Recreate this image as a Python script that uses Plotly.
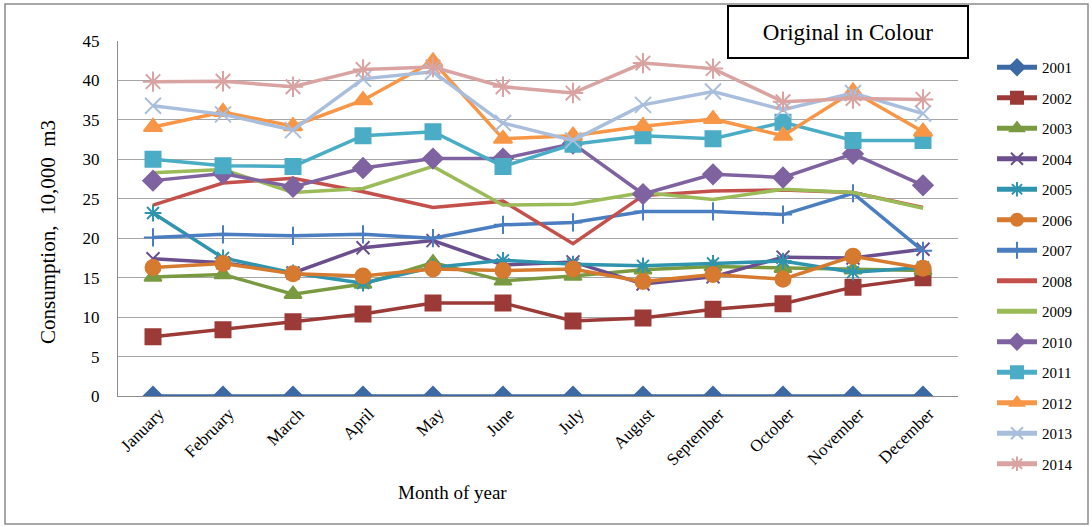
import plotly.graph_objects as go

months = ["January", "February", "March", "April", "May", "June", "July",
          "August", "September", "October", "November", "December"]

y2001 = [0, 0, 0, 0, 0, 0, 0, 0, 0, 0, 0, 0]
y2002 = [7.5, 8.4, 9.4, 10.4, 11.8, 11.8, 9.5, 9.9, 11.0, 11.7, 13.8, 15.0]
y2003 = [15.1, 15.4, 12.9, 14.2, 16.9, 14.6, 15.2, 16.0, 16.4, 16.2, 16.0, 15.9]
y2004 = [17.4, 16.9, 15.6, 18.8, 19.7, 16.6, 17.0, 14.2, 15.1, 17.6, 17.5, 18.6]
y2005 = [23.2, 17.5, 15.6, 14.3, 16.3, 17.2, 16.7, 16.5, 16.8, 17.1, 15.7, 16.3]
y2006 = [16.3, 16.8, 15.5, 15.2, 16.1, 15.9, 16.1, 14.5, 15.4, 14.8, 17.7, 16.2]
y2007 = [20.1, 20.5, 20.3, 20.5, 20.0, 21.7, 22.0, 23.4, 23.4, 23.0, 25.7, 18.4]
y2008 = [24.2, 27.0, 27.6, 25.9, 23.9, 24.7, 19.3, 25.4, 26.0, 26.1, 25.8, 23.9]
y2009 = [28.3, 28.7, 25.8, 26.3, 29.1, 24.2, 24.3, 25.8, 24.9, 26.2, 25.8, 23.8]
y2010 = [27.3, 28.2, 26.5, 28.9, 30.1, 30.1, 32.0, 25.6, 28.1, 27.7, 30.7, 26.7]
y2011 = [30.0, 29.2, 29.1, 33.0, 33.5, 29.1, 31.9, 33.0, 32.6, 34.7, 32.4, 32.4]
y2012 = [34.1, 36.0, 34.2, 37.5, 42.4, 32.6, 33.0, 34.2, 35.1, 33.0, 38.6, 33.5]
y2013 = [36.8, 35.7, 33.7, 40.2, 41.1, 34.6, 32.4, 36.9, 38.6, 36.3, 38.4, 35.8]
y2014 = [39.85, 39.9, 39.2, 41.4, 41.7, 39.2, 38.4, 42.2, 41.5, 37.3, 37.7, 37.6]

years = ["2001", "2002", "2003", "2004", "2005", "2006", "2007",
         "2008", "2009", "2010", "2011", "2012", "2013", "2014"]
values = [y2001, y2002, y2003, y2004, y2005, y2006, y2007,
          y2008, y2009, y2010, y2011, y2012, y2013, y2014]

# line colour, marker symbol, marker size per year (None = line only)
styles = [
    ("#3D69A4", "diamond", 14),
    ("#9B3A37", "square", 15),
    ("#7A9A42", "triangle-up", 15),
    ("#6A4E8E", "x-thin-open", 13),
    ("#2F94AD", "asterisk-open", 14),
    ("#D67A30", "circle", 15),
    ("#4A7EC0", "cross-thin-open", 13),
    ("#C4504C", None, 0),
    ("#9BBB59", None, 0),
    ("#7F63A1", "diamond", 15),
    ("#4BACC6", "square", 15),
    ("#F79646", "triangle-up", 16),
    ("#A9BEDC", "x-thin-open", 16),
    ("#D9A3A2", "asterisk-open", 17),
]

SERIF = "Liberation Serif"
NB = "\u00a0"

fig = go.Figure()
for yr, vals, (col, sym, size) in zip(years, values, styles):
    if sym is None:
        fig.add_trace(go.Scatter(
            x=months, y=vals, name=yr, mode="lines", legendgroup=yr,
            line=dict(color=col, width=3.5)))
    else:
        fig.add_trace(go.Scatter(
            x=months, y=vals, name=yr, mode="lines+markers", legendgroup=yr,
            line=dict(color=col, width=3.5),
            marker=dict(symbol=sym, size=size, color=col,
                        line=dict(color=col, width=2))))

W, H = 1092, 527
L, R, T, B = 118, 134, 41, 131
pw, ph = W - L - R, H - T - B


def px_x(p):
    return (p - L) / pw


def px_y(p):
    return (H - B - p) / ph


fig.update_layout(
    width=W, height=H,
    margin=dict(l=L, r=R, t=T, b=B),
    paper_bgcolor="white", plot_bgcolor="white",
    font=dict(family=SERIF, color="black"),
    xaxis=dict(
        range=[-0.5, len(months) - 0.5],
        tickangle=-45, tickfont=dict(size=17, family=SERIF, color="black"),
        ticklabelshift=6,
        showgrid=False, showline=True, linecolor="#8C8C8C", linewidth=1.3,
        fixedrange=True,
    ),
    yaxis=dict(
        range=[0, 45], dtick=5, tickfont=dict(size=17, family=SERIF, color="black"),
        showgrid=True, gridcolor="#A6A6A6", gridwidth=1.3,
        showline=True, linecolor="#8C8C8C", linewidth=1.3, zeroline=False,
        ticks="", ticklabelstandoff=14,
    ),
    legend=dict(
        x=px_x(992), y=px_y(51), xanchor="left", yanchor="top",
        font=dict(size=15, family=SERIF, color="black"), traceorder="grouped",
        tracegroupgap=8, itemsizing="constant", itemwidth=40,
        bgcolor="rgba(0,0,0,0)", maxheight=480,
    ),
    showlegend=True,
)

# axis titles
fig.add_annotation(
    xref="paper", yref="paper", x=px_x(452), y=px_y(492),
    xanchor="center", yanchor="middle", showarrow=False,
    text="Month of year", font=dict(size=19, family=SERIF, color="black"),
)
fig.add_annotation(
    xref="paper", yref="paper", x=px_x(48), y=px_y(232),
    xanchor="center", yanchor="middle", showarrow=False, textangle=-90,
    text=f"Consumption,{NB}{NB}10,000{NB}{NB}m3",
    font=dict(size=21, family=SERIF, color="black"),
)

# outer frame
fig.add_shape(type="rect", xref="paper", yref="paper",
              x0=px_x(5), x1=px_x(1088), y0=px_y(524), y1=px_y(4),
              line=dict(color="#8C8C8C", width=1.5), layer="below")

# label box
fig.add_annotation(
    xref="paper", yref="paper", x=px_x(848), y=px_y(32),
    xanchor="center", yanchor="middle",
    text="Original in Colour", showarrow=False,
    font=dict(size=23, family=SERIF, color="black"),
    bordercolor="black", borderwidth=2, borderpad=0,
    width=238, height=50, bgcolor="white",
)

fig.write_html("out.html")
